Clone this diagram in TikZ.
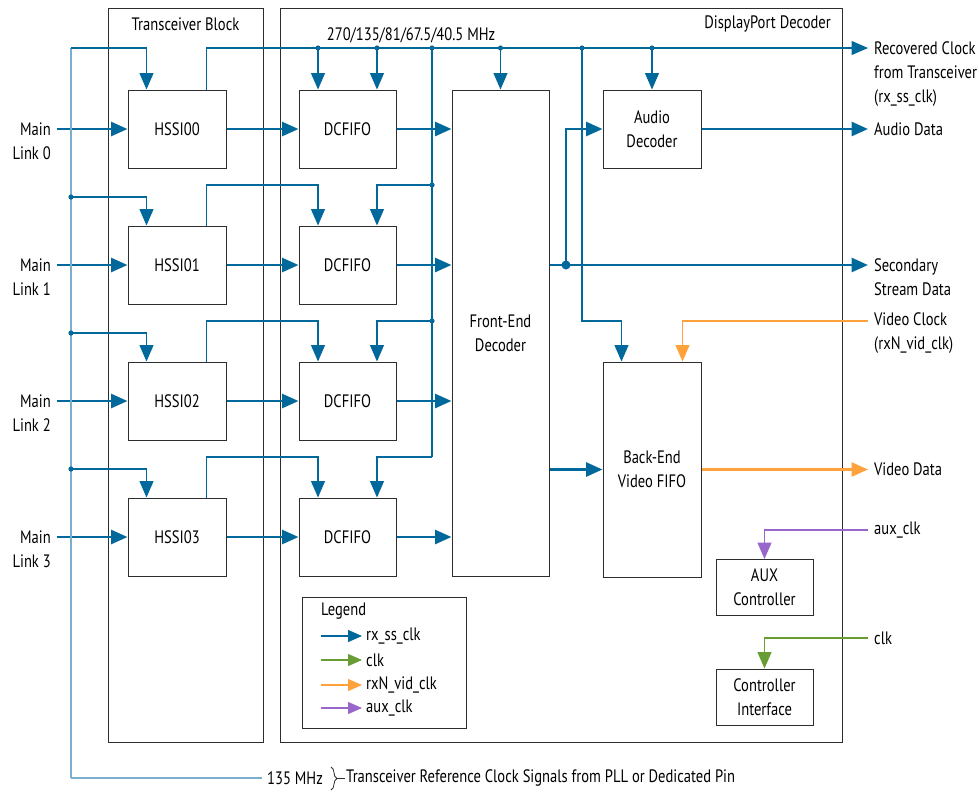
\documentclass[tikz,border=0pt]{standalone}
\usepackage{fontspec}
\setmainfont{PT Sans}[FakeStretch=0.81]
\usetikzlibrary{arrows.meta,calc,decorations.pathreplacing}
\definecolor{dpblue}{RGB}{0,104,154}
\definecolor{trunkblue}{RGB}{122,176,206}
\definecolor{vidorange}{RGB}{255,162,60}
\definecolor{clkgreen}{RGB}{104,156,52}
\definecolor{auxpurple}{RGB}{153,102,204}
\definecolor{boxgray}{RGB}{45,45,45}
\begin{document}
\begin{tikzpicture}[x=1pt,y=-1pt,
  font=\fontsize{18}{24}\selectfont,
  tip/.style={-{Triangle[length=16.5pt,width=14pt]}},
  legtip/.style={-{Triangle[length=14pt,width=12pt]}},
  blk/.style={draw=boxgray,line width=1pt,minimum width=98pt,minimum height=78pt,align=center,inner sep=0pt},
  frame/.style={draw=boxgray,line width=1pt,anchor=north west,inner sep=0pt},
  lbl/.style={inner sep=0pt},
  clk/.style={draw=dpblue,line width=1.3pt},
  data/.style={draw=dpblue,line width=2.8pt},
  trunk/.style={draw=trunkblue,line width=2pt},
  dot/.style={fill=dpblue},
]
\useasboundingbox (0,0) rectangle (979,793);

% containers
\node[frame,minimum width=155pt,minimum height=734pt] (tb) at (108,8) {};
\node[frame,minimum width=562pt,minimum height=734pt] (dp) at (279.5,8) {};
\node[lbl] (tbl) at (185.5,24) {Transceiver Block};
\node[lbl,anchor=east] (dpl) at (831,24) {DisplayPort Decoder};
\node[lbl] (fq) at (411,35) {270/135/81/67.5/40.5 MHz};

% blocks
\node[blk] (h0) at (177,129) {HSSI00};
\node[blk] (h1) at (177,265) {HSSI01};
\node[blk] (h2) at (177,401) {HSSI02};
\node[blk] (h3) at (177,537) {HSSI03};
\node[blk,minimum width=97pt] (f0) at (347.5,129) {DCFIFO};
\node[blk,minimum width=97pt] (f1) at (347.5,265) {DCFIFO};
\node[blk,minimum width=97pt] (f2) at (347.5,401) {DCFIFO};
\node[blk,minimum width=97pt] (f3) at (347.5,537) {DCFIFO};
\node[blk,minimum width=97pt,minimum height=486pt] (fed) at (500.5,333) {Front-End\\Decoder};
\node[blk] (ad) at (652,129) {Audio\\Decoder};
\node[blk,minimum height=215pt] (be) at (652,469.5) {Back-End\\Video FIFO};
\node[blk,minimum width=97pt,minimum height=56pt] (aux) at (764.5,587.5) {AUX\\Controller};
\node[blk,minimum width=97pt,minimum height=56pt] (ci) at (764.5,697) {Controller\\Interface};

% main links
\foreach \k/\y in {0/129,1/265,2/401,3/537}{
  \coordinate (m\k) at (57,\y);
  \node[lbl,anchor=east,align=right] (ml\k) at (51,\y+12) {Main\\Link \k};
  \draw[data,tip] (m\k) -- (h\k.west);
  \draw[data,tip] (h\k.east) -- (f\k.west);
  \draw[data,tip] (f\k.east) -- (fed.west |- f\k.east);
}

% recovered clock line
\coordinate (rcl) at (868,48);
\draw[clk,tip] ($(h0.north east)+(-20,0)$) |- (rcl);
\coordinate (cA) at (318,48);
\coordinate (cB) at (377,48);
\coordinate (cC) at (432,48);
\coordinate (cD) at (500.5,48);
\coordinate (cE) at (582,48);
\coordinate (cF) at (652,48);
\draw[clk,tip] (cA) -- (cA |- f0.north);
\draw[clk,tip] (cB) -- (cB |- f0.north);
\draw[clk,tip] (cD) -- (fed.north);
\draw[clk,tip] (cF) -- (ad.north);
\coordinate (j1) at (432,185);
\coordinate (j2) at (432,321);
\coordinate (j3) at (432,457);
\draw[clk] (cC) -- (j3);
\foreach \k in {1,2,3}{
  \draw[clk,tip] (j\k) -| (cB |- f\k.north);
  \draw[clk,tip] ($(h\k.north east)+(-20,0)$) |- (cA |- j\k) -- (cA |- f\k.north);
}
\coordinate (vb) at (582,321);
\draw[clk,tip] (cE) -- (vb) -| ($(be.north west)+(19,0)$);
\foreach \c in {cA,cB,cC,cD,cE,cF,j1,j2}{\fill[dot] (\c) circle (2.6pt);}

% reference clock trunk
\coordinate (ref) at (71,778);
\coordinate (tt) at (71,48);
\draw[trunk] (ref) -- (tt);
\draw[clk,tip] (tt) -| ($(h0.north west)+(19,0)$);
\coordinate (b1) at (71,197);
\coordinate (b2) at (71,333);
\coordinate (b3) at (71,469);
\foreach \k in {1,2,3}{
  \draw[clk,tip] (b\k) -| ($(h\k.north west)+(19,0)$);
  \fill[dot] (b\k) circle (2.6pt);
}

% decoder outputs
\coordinate (sec) at (868,265);
\coordinate (ajn) at (566,265);
\draw[data,tip] (fed.east |- sec) -- (sec);
\draw[data,tip] (ajn) |- (ad.west);
\fill[dot] (ajn) circle (4.5pt);
\draw[data,tip] (fed.east |- be.west) -- (be.west);
\coordinate (aud) at (868,129);
\draw[data,tip] (ad.east) -- (aud);
\coordinate (vid) at (868,469.5);
\draw[draw=vidorange,line width=2.8pt,tip] (be.east) -- (vid);

% external clocks
\coordinate (vcs) at (868,321);
\draw[draw=vidorange,line width=1.3pt,tip] (vcs) -| ($(be.north east)+(-19,0)$);
\coordinate (axs) at (868,530);
\draw[draw=auxpurple,line width=1.3pt,tip] (axs) -| (aux.north);
\coordinate (cks) at (868,638);
\draw[draw=clkgreen,line width=1.3pt,tip] (cks) -| (ci.north);

% right labels
\node[lbl,anchor=west,align=left] (rcll) at (874,74) {Recovered Clock\\from Transceiver\\(rx\_ss\_clk)};
\node[lbl,anchor=west] (audl) at (874,129) {Audio Data};
\node[lbl,anchor=west,align=left] (secl) at (874,277) {Secondary\\Stream Data};
\node[lbl,anchor=west,align=left] (vcl) at (874,333) {Video Clock\\(rxN\_vid\_clk)};
\node[lbl,anchor=west] (vidl) at (874,469.5) {Video Data};
\node[lbl,anchor=west] (axl) at (874,530) {aux\_clk};
\node[lbl,anchor=west] (ckl) at (874,638) {clk};

% legend
\node[frame,minimum width=164pt,minimum height=131pt] (lg) at (302,597) {};
\node[lbl,anchor=west] (lgt) at (321,611) {Legend};
\foreach \n/\y/\col/\t in {1/636/dpblue/rx\_ss\_clk,2/660/clkgreen/clk,3/685/vidorange/rxN\_vid\_clk,4/708/auxpurple/aux\_clk}{
  \coordinate (ls\n) at (321,\y);
  \node[lbl,anchor=west] (lt\n) at (366,\y) {\t};
  \draw[draw=\col,line width=1.1pt,legtip,shorten >=4pt] (ls\n) -- (lt\n.west);
}

% bottom reference clock text
\node[lbl,anchor=west] (mhz) at (267,778) {135 MHz};
\draw[trunk,shorten >=5pt] (ref) -- (mhz.west);
\coordinate (bt) at (331,767);
\coordinate (bb) at (331,790);
\draw[boxgray,line width=0.8pt,decorate,decoration={brace,amplitude=6pt}] (bt) -- (bb);
\coordinate (bs) at (337,778.5);
\coordinate (be2) at (345,778.5);
\draw[boxgray,line width=0.8pt] (bs) -- (be2);
\node[lbl,anchor=west] (trc) at (346,778) {Transceiver Reference Clock Signals from PLL or Dedicated Pin};
\end{tikzpicture}
\end{document}
